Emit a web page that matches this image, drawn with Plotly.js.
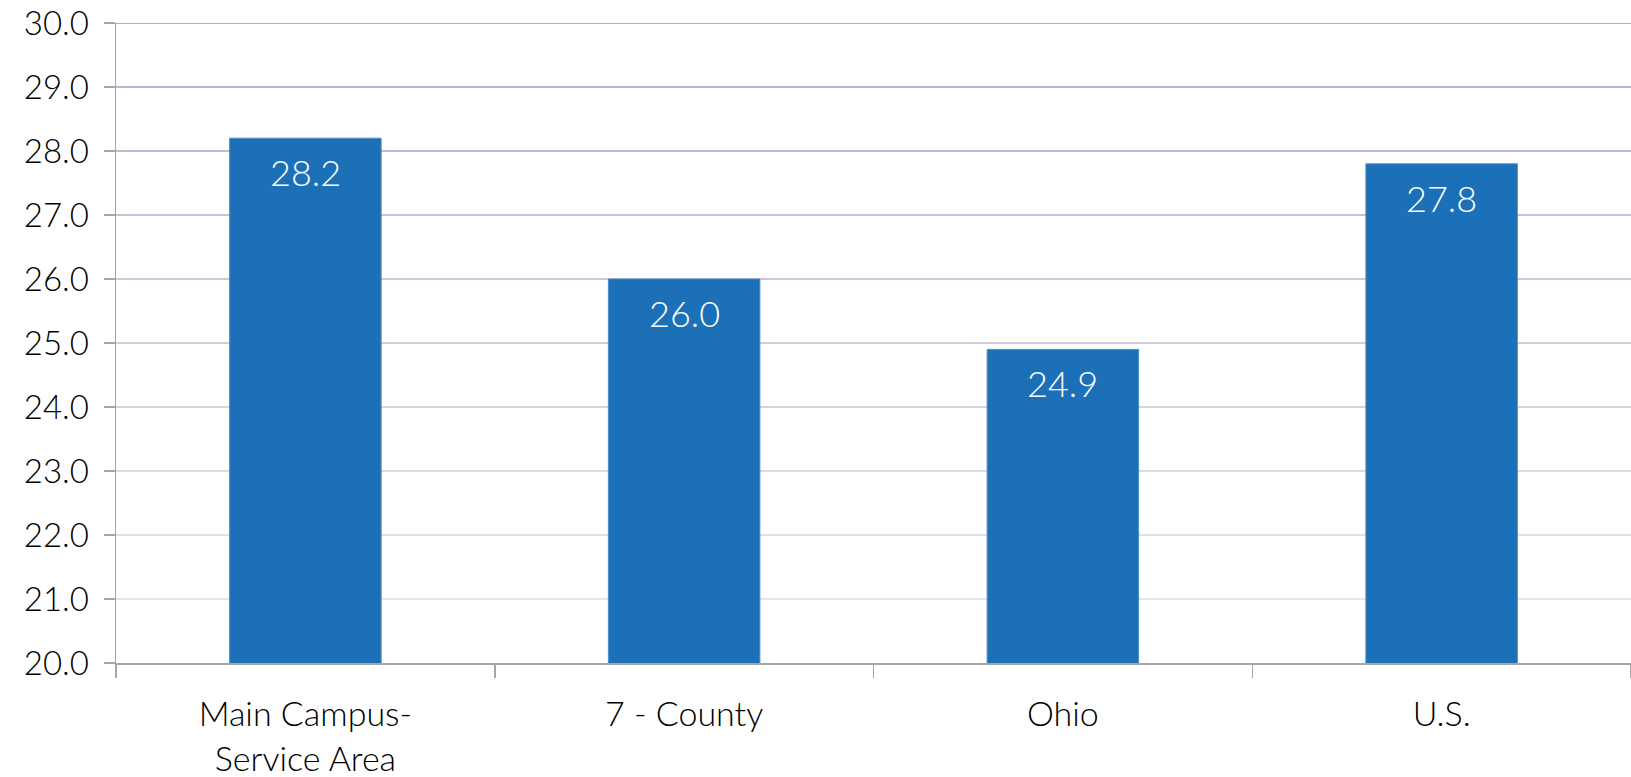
<!DOCTYPE html>
<html>
<head>
<meta charset="utf-8">
<script src="https://cdn.plot.ly/plotly-3.0.1.min.js"></script>
<style>html,body{margin:0;padding:0;background:#fff;}#chart{width:1631px;height:777px;}</style>
</head>
<body>
<div id="chart"></div>
<script>
const categories = ["Main Campus-<br>Service Area", "7 - County", "Ohio", "U.S."];
const values = [28.2, 26.0, 24.9, 27.8];
const yTicks = [20, 21, 22, 23, 24, 25, 26, 27, 28, 29, 30];
const yTickLabels = ["20.0", "21.0", "22.0", "23.0", "24.0", "25.0", "26.0", "27.0", "28.0", "29.0", "30.0"];

const FONT = "Lato, 'Noto Sans', sans-serif";

function mix(a, b, t) {
  const pa = [parseInt(a.slice(1,3),16), parseInt(a.slice(3,5),16), parseInt(a.slice(5,7),16)];
  const pb = [parseInt(b.slice(1,3),16), parseInt(b.slice(3,5),16), parseInt(b.slice(5,7),16)];
  return 'rgb(' + pa.map((v,i)=>Math.round(v+(pb[i]-v)*t)).join(',') + ')';
}
const gridShapes = yTicks.slice(1).map((v, i, arr) => ({
  type: 'line', xref: 'paper', yref: 'y', x0: 0, x1: 1, y0: v, y1: v,
  layer: 'below',
  line: {color: mix('#e6e5ee', '#b3b0cb', i / (arr.length - 1)), width: 2}
}));

const annotations = categories.map((c, i) => ({
  x: c, y: values[i], xref: 'x', yref: 'y',
  text: values[i].toFixed(1), showarrow: false,
  yanchor: 'top', yshift: -10,
  font: {family: FONT, size: 36, weight: 300, color: '#ffffff'}
}));

const trace = {
  type: 'bar', x: categories, y: values,
  marker: {color: '#1b70b8', line: {color: '#4f8cc8', width: 1}},
  hoverinfo: 'skip'
};

const layout = {
  width: 1631, height: 777,
  margin: {l: 116, r: 0, t: 23, b: 114},
  paper_bgcolor: '#ffffff', plot_bgcolor: '#ffffff',
  bargap: 0.6,
  showlegend: false,
  shapes: gridShapes,
  annotations: annotations,
  xaxis: {
    type: 'category',
    tickson: 'boundaries',
    ticks: 'outside', ticklen: 13, tickwidth: 1.5, tickcolor: '#a6a6a6',
    showline: true, linecolor: '#a6a6a6', linewidth: 1.5,
    showgrid: false, zeroline: false,
    ticklabelstandoff: 21,
    tickfont: {family: FONT, size: 34, weight: 300, color: '#000000'}
  },
  yaxis: {
    range: [20, 30],
    tickvals: yTicks, ticktext: yTickLabels,
    ticks: 'outside', ticklen: 11, tickwidth: 1.5, tickcolor: '#a6a6a6',
    showline: true, linecolor: '#a6a6a6', linewidth: 1.5,
    showgrid: false, zeroline: false,
    ticklabelstandoff: 8,
    tickfont: {family: FONT, size: 33, weight: 300, color: '#000000'}
  }
};

Plotly.newPlot('chart', [trace], layout, {displayModeBar: false, staticPlot: true});
</script>
</body>
</html>
